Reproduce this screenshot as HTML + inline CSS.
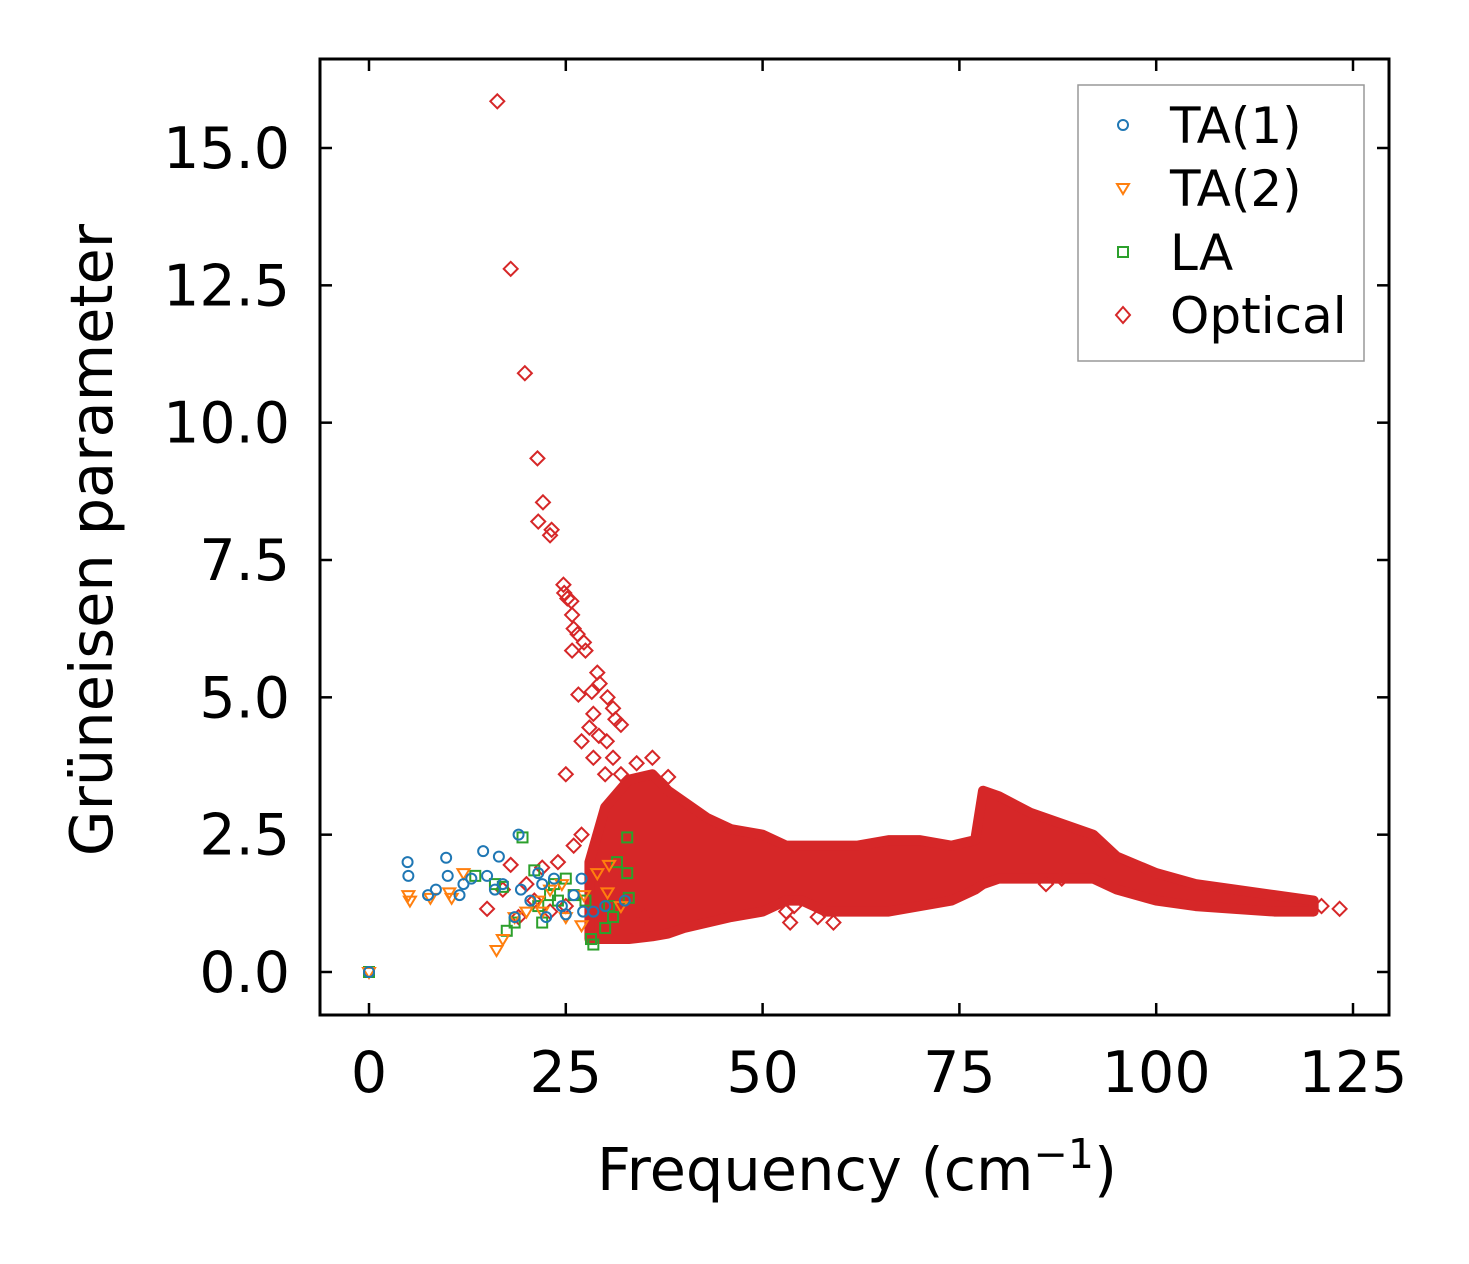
<!DOCTYPE html>
<html><head><meta charset="utf-8"><style>
html,body{margin:0;padding:0;background:#fff;}
svg{display:block;font-family:"DejaVu Sans","Liberation Sans",sans-serif;}
</style></head><body>
<svg id="chart" width="1469" height="1264" viewBox="0 0 1469 1264" xmlns="http://www.w3.org/2000/svg">
<rect x="0" y="0" width="1469" height="1264" fill="#fff"/>
<g id="marks"></g>
<g id="axes"></g>
<rect x="320" y="59" width="1069" height="956" fill="none" stroke="#000" stroke-width="3"/>
<text x="857" y="1190" font-size="59" text-anchor="middle">Frequency (cm<tspan dy="-22" font-size="41">−1</tspan><tspan dy="22">)</tspan></text>
<text transform="translate(112,540) rotate(-90)" font-size="59" text-anchor="middle">Grüneisen parameter</text>
<g>
<rect x="1078" y="85" width="286" height="276" fill="#fff" stroke="#999" stroke-width="1.5"/>
<circle cx="1123" cy="125" r="5" fill="none" stroke="#1f77b4" stroke-width="2"/>
<text x="1170" y="143" font-size="50">TA(1)</text>
<polygon points="1117,184 1129,184 1123,194" fill="none" stroke="#ff7f0e" stroke-width="2"/>
<text x="1170" y="206" font-size="50">TA(2)</text>
<rect x="1118" y="247" width="10" height="10" fill="none" stroke="#2ca02c" stroke-width="2"/>
<text x="1170" y="270" font-size="50">LA</text>
<polygon points="1123,307 1130,315 1123,323 1116,315" fill="none" stroke="#d62728" stroke-width="2"/>
<text x="1170" y="333" font-size="50">Optical</text>
</g>
</svg>
<script>
const xTicks=[0,25,50,75,100,125];
const yTicks=[0,2.5,5,7.5,10,12.5,15];
const yTickLabels=["0.0","2.5","5.0","7.5","10.0","12.5","15.0"];
const ta1X=[0,4.9,5,7.5,8.5,9.8,10,11.5,12,14.5,15,16.5,17,18.5,19,19.3,20.5,21.5,22,22.5,23.5,24.5,25,26,27,27.2,28.5,30,32.5,16,13];
const ta1Y=[0,2.0,1.75,1.4,1.5,2.08,1.75,1.4,1.6,2.2,1.75,2.1,1.6,1.0,2.5,1.5,1.3,1.8,1.6,1.0,1.7,1.2,1.05,1.4,1.7,1.1,1.1,1.2,1.3,1.5,1.7];
const ta2X=[0,5,5.2,7.8,10.2,10.5,12,16.2,17,18.5,20,21.5,23,24.5,25,27,27.3,29,30.3,30.5,32,22];
const ta2Y=[0,1.4,1.3,1.35,1.45,1.35,1.8,0.4,0.6,1.0,1.1,1.3,1.5,1.6,1.0,0.85,1.4,1.8,1.45,1.95,1.2,1.1];
const laX=[0,13.5,16,17,17.5,18.5,19.5,21,21.5,22,23,23.5,24,25,26,27.5,28.2,28.5,30,31,31.5,32.8,32.8,33,30.5];
const laY=[0,1.75,1.6,1.55,0.75,0.9,2.45,1.85,1.2,0.9,1.4,1.6,1.3,1.7,1.4,1.3,0.6,0.5,0.8,1.0,2.0,2.45,1.8,1.35,1.2];
const optEnvX=[28,30,33,36,38,40,43,46,50,53,55,58,62,66,70,74,77,78,80,84,88,92,95,100,105,110,115,120];
const optEnvLow=[0.6,0.6,0.6,0.65,0.7,0.8,0.9,1.0,1.1,1.3,1.3,1.1,1.1,1.1,1.2,1.3,1.5,1.6,1.7,1.7,1.7,1.7,1.5,1.3,1.2,1.15,1.1,1.1];
const optEnvHigh=[2.0,3.0,3.5,3.6,3.3,3.1,2.8,2.6,2.5,2.3,2.3,2.3,2.3,2.4,2.4,2.3,2.4,3.3,3.2,2.9,2.7,2.5,2.1,1.8,1.6,1.5,1.4,1.3];
const optX=[16.3,18,19.8,21.4,22.1,21.5,23.2,23,24.7,24.8,25.2,25.7,25.8,26.0,26.5,27.3,27.5,25.8,26.6,28.3,29,29.3,30.3,31,31.3,32,28.5,29.2,27,28,30.2,25,28.5,30,31,32,34,36,38,27,26,24,22,20,18,15,17,19,21,23,25,35,53.5,54,53,59,57,123.3,121,86,88];
const optY=[15.85,12.8,10.9,9.35,8.55,8.2,8.05,7.95,7.05,6.9,6.8,6.75,6.5,6.25,6.15,6.0,5.85,5.85,5.05,5.1,5.45,5.25,5.0,4.8,4.6,4.5,4.7,4.3,4.2,4.45,4.2,3.6,3.9,3.6,3.9,3.6,3.8,3.9,3.55,2.5,2.3,2.0,1.9,1.6,1.95,1.15,1.5,1.0,1.3,1.1,1.2,1.0,0.9,1.2,1.1,0.9,1.0,1.15,1.2,1.6,1.7];

const NS="http://www.w3.org/2000/svg";
const sx=v=>369+v*(1353-369)/125;
const sy=v=>972-v*(972-148)/15;
const marks=document.getElementById('marks');
const axes=document.getElementById('axes');
function mk(tag,attrs,parent){const e=document.createElementNS(NS,tag);for(const k in attrs)e.setAttribute(k,attrs[k]);parent.appendChild(e);return e;}

xTicks.forEach(t=>{
  const x=sx(t);
  let l=mk('line',{x1:x,x2:x,y1:1015,y2:1003,stroke:'#000','stroke-width':2.5},axes);
  
  
  l=mk('line',{x1:x,x2:x,y1:59,y2:71,stroke:'#000','stroke-width':2.5},axes);
  
  
  const tx=mk('text',{x:x,y:1092,'font-size':57,'text-anchor':'middle'},axes);
  tx.textContent=String(t);
  
  
});
yTicks.forEach((t,i)=>{
  const y=sy(t);
  let l=mk('line',{x1:320,x2:332,y1:y,y2:y,stroke:'#000','stroke-width':2.5},axes);
  
  
  l=mk('line',{x1:1389,x2:1377,y1:y,y2:y,stroke:'#000','stroke-width':2.5},axes);
  
  
  const tx=mk('text',{x:290,y:y+20,'font-size':57,'text-anchor':'end'},axes);
  tx.textContent=yTickLabels[i];
  
  
});

let pts=optEnvX.map((x,i)=>sx(x)+','+sy(optEnvHigh[i]));
for(let i=optEnvX.length-1;i>=0;i--)pts.push(sx(optEnvX[i])+','+sy(optEnvLow[i]));
const cloud=mk('polygon',{points:pts.join(' '),fill:'#d62728',stroke:'#d62728','stroke-width':10,'stroke-linejoin':'round'},marks);



optX.forEach((x,i)=>{
  const cx=sx(x),cy=sy(optY[i]);
  const p=mk('polygon',{points:`${cx},${cy-7} ${cx+7},${cy} ${cx},${cy+7} ${cx-7},${cy}`,fill:'none',stroke:'#d62728','stroke-width':2},marks);
  
  
});
laX.forEach((x,i)=>{
  const cx=sx(x),cy=sy(laY[i]);
  const r=mk('rect',{x:cx-5,y:cy-5,width:10,height:10,fill:'none',stroke:'#2ca02c','stroke-width':2},marks);
  
  
});
ta2X.forEach((x,i)=>{
  const cx=sx(x),cy=sy(ta2Y[i]);
  const p=mk('polygon',{points:`${cx-6},${cy-4} ${cx+6},${cy-4} ${cx},${cy+6}`,fill:'none',stroke:'#ff7f0e','stroke-width':2},marks);
  
  
});
ta1X.forEach((x,i)=>{
  const c=mk('circle',{cx:sx(x),cy:sy(ta1Y[i]),r:5,fill:'none',stroke:'#1f77b4','stroke-width':2},marks);
  
  
});
</script>
</body></html>
